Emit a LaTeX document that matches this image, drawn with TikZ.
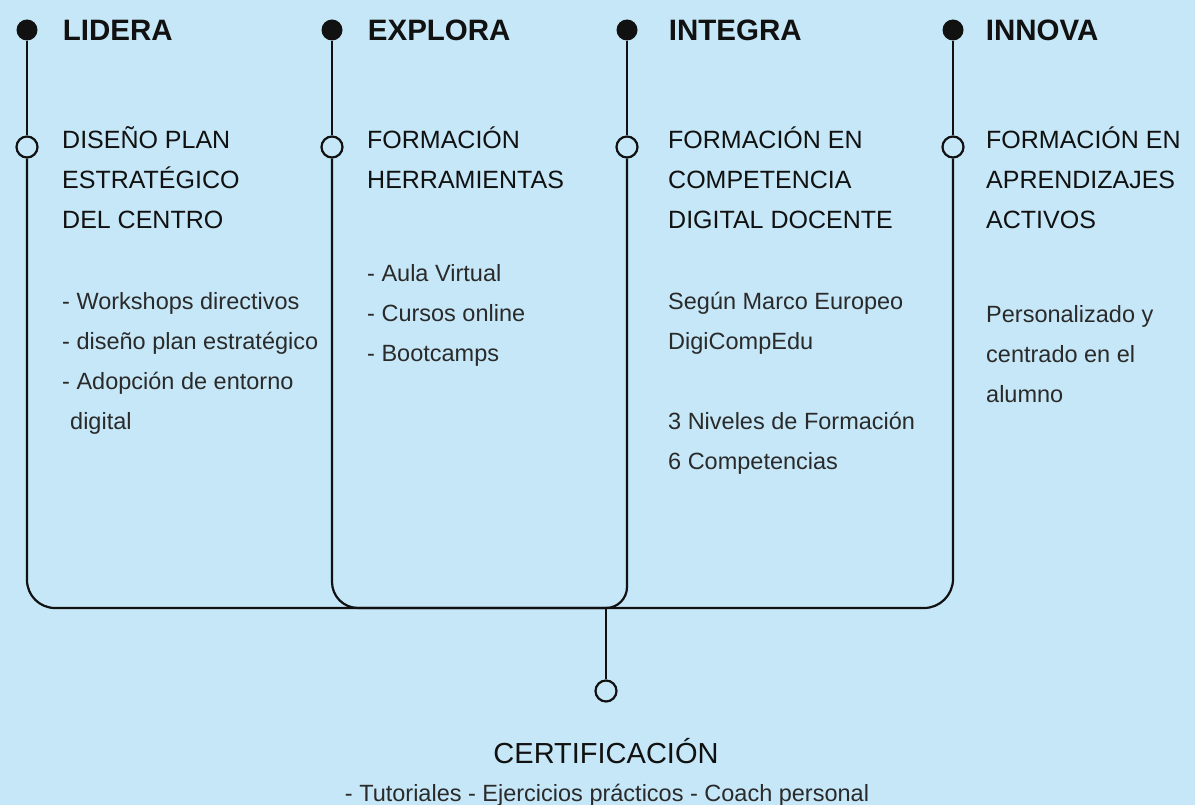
\documentclass[tikz,border=0pt]{standalone}
\usepackage{fontspec}
\setmainfont{Liberation Sans}
\usepackage{xcolor}
\usepackage{tikz}
\usetikzlibrary{positioning}

\definecolor{skyback}{HTML}{C5E7F7}
\definecolor{inkline}{HTML}{111111}
\definecolor{bodytext}{HTML}{2A2A2A}

\begin{document}
\begin{tikzpicture}[
    x=1pt, y=-1pt,
    dot/.style={circle, fill=inkline, inner sep=0pt, minimum size=21pt},
    ring/.style={circle, draw=inkline, line width=2.2pt, fill=skyback, inner sep=0pt, minimum size=21pt},
    wire/.style={draw=inkline, line width=2.2pt},
    title/.style={anchor=west, inner sep=0pt, text=inkline, font=\fontsize{29.5}{36}\selectfont\bfseries},
    head/.style={anchor=base west, inner sep=0pt, align=left, text=inkline, font=\fontsize{25}{40}\selectfont},
    body/.style={anchor=base west, inner sep=0pt, align=left, text=bodytext, font=\fontsize{23.5}{40}\selectfont}
]

% Background
\useasboundingbox (0,0) rectangle (1195,805);
\fill[skyback] (0,0) rectangle (1195,805);

% Columns: dots and rings
\node[dot] (dLidera) at (27,30) {};
\node[dot] (dExplora) at (332,30) {};
\node[dot] (dIntegra) at (627,30) {};
\node[dot] (dInnova) at (953,30) {};

\node[ring] (rLidera) at (27,147) {};
\node[ring] (rExplora) at (332,147) {};
\node[ring] (rIntegra) at (627,147) {};
\node[ring] (rInnova) at (953,147) {};

\coordinate (hub) at (606,608);
\node[ring] (rCert) at (606,691) {};

% Titles
\node[title, right=25pt of dLidera] (tLidera) {LIDERA};
\node[title, right=25pt of dExplora] (tExplora) {EXPLORA};
\node[title, right=31pt of dIntegra] (tIntegra) {INTEGRA};
\node[title, right=22pt of dInnova] (tInnova) {INNOVA};

% Headings (base = last line)
\node[head] (hLidera) at (62,229) {DISEÑO PLAN\\ESTRATÉGICO\\DEL CENTRO};
\node[head] (hExplora) at (367,189) {FORMACIÓN\\HERRAMIENTAS};
\node[head] (hIntegra) at (668,229) {FORMACIÓN EN\\COMPETENCIA\\DIGITAL DOCENTE};
\node[head] (hInnova) at (986,229) {FORMACIÓN EN\\APRENDIZAJES\\ACTIVOS};

% Details
\node[body] (bLidera) at (62,429) {- Workshops directivos\\- diseño plan estratégico\\- Adopción de entorno\\\hspace*{8pt}digital};
\node[body] (bExplora) at (367,361) {- Aula Virtual\\- Cursos online\\- Bootcamps};
\node[body] (bIntegra) at (668,469) {Según Marco Europeo\\DigiCompEdu\\[40pt]3 Niveles de Formación\\6 Competencias};
\node[body] (bInnova) at (986,402) {Personalizado y\\centrado en el\\alumno};

% Certification
\node[anchor=base, inner sep=0pt, text=inkline, font=\fontsize{29}{34}\selectfont] (tCert) at (606,763) {CERTIFICACIÓN};
\node[anchor=base, inner sep=0pt, text=bodytext, font=\fontsize{23.5}{28}\selectfont] (bCert) at (607,801) {- Tutoriales - Ejercicios prácticos - Coach personal};

% Connectors
\draw[wire] (dLidera) -- (rLidera);
\draw[wire] (dExplora) -- (rExplora);
\draw[wire] (dIntegra) -- (rIntegra);
\draw[wire] (dInnova) -- (rInnova);

\draw[wire, rounded corners=28pt] (rLidera) |- (hub);
\draw[wire, rounded corners=26pt] (rExplora) |- (hub);
\draw[wire, rounded corners=21pt] (rIntegra) |- (hub);
\draw[wire, rounded corners=29pt] (rInnova) |- (hub);
\draw[wire] (hub) -- (rCert);

\end{tikzpicture}
\end{document}
